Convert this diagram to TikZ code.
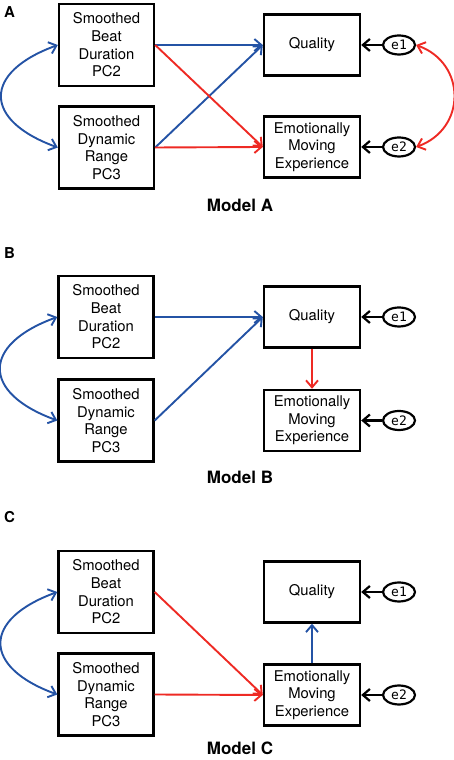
\documentclass[tikz,border=0pt]{standalone}
\usepackage{fontspec}
\setmainfont{TeX Gyre Heros}
\newfontfamily\errfont{DejaVu Sans Mono}
\usetikzlibrary{shapes,arrows.meta}
\definecolor{pathblue}{RGB}{36,83,165}
\definecolor{pathred}{RGB}{238,42,36}

\begin{document}
\begin{tikzpicture}[x=1pt, y=1pt,
    >={Straight Barb[length=7pt,width=12pt]},
    pred/.style={draw, line width=2.4pt, minimum width=95pt, minimum height=82pt,
        align=center, font=\fontsize{14.8}{17.6}\selectfont},
    outc/.style={pred, minimum width=96pt, minimum height=61pt},
    err/.style={draw, ellipse, line width=2.2pt, minimum width=32pt,
        minimum height=19pt, inner sep=0pt, font=\errfont\fontsize{13}{13}\selectfont},
    panel/.style={font=\bfseries\fontsize{15}{15}\selectfont},
    modelname/.style={font=\bfseries\fontsize{17}{17}\selectfont},
    bpath/.style={->, pathblue, line width=1.9pt},
    rpath/.style={->, pathred, line width=1.9pt},
    epath/.style={->, line width=2.2pt}]
\useasboundingbox (0,0) rectangle (454,760);

% Model A
\node[panel] (labA) at (9.5,747.5) {A};
\node[pred] (bdA) at (106.5,715) {Smoothed\\Beat\\Duration\\PC2};
\node[pred] (drA) at (106.5,612.5) {Smoothed\\Dynamic\\Range\\PC3};
\node[outc] (qA) at (312,715) {Quality};
\node[outc] (emA) at (312,613) {Emotionally\\Moving\\Experience};
\node[err] (e1A) at (399,715) {e1};
\node[err] (e2A) at (399,613) {e2};
\node[modelname] (mA) at (240,555) {Model A};
% paths
\draw[bpath] (bdA.east) -- (qA.west);
\draw[bpath] (drA.east) -- (qA.west);
\draw[rpath] (bdA.east) -- (emA.west);
\draw[rpath] (drA.east) -- (emA.west);
\draw[epath] (e1A.west) -- (qA.east);
\draw[epath] (e2A.west) -- (emA.east);
% covariances
\draw[bpath, <->] (bdA.west) to[out=200, in=160, looseness=2] (drA.west);
\draw[rpath, <->] (e1A.east) to[out=-20, in=20, looseness=1.35] (e2A.east);

% Model B
\node[panel] (labB) at (9.5,507) {B};
\node[pred] (bdB) at (106,443) {Smoothed\\Beat\\Duration\\PC2};
\node[pred] (drB) at (106,339.5) {Smoothed\\Dynamic\\Range\\PC3};
\node[outc] (qB) at (312,443) {Quality};
\node[outc] (emB) at (312,339.5) {Emotionally\\Moving\\Experience};
\node[err] (e1B) at (399,443) {e1};
\node[err] (e2B) at (399,339.5) {e2};
\node[modelname] (mB) at (240,283) {Model B};
% paths
\draw[bpath] (bdB.east) -- (qB.west);
\draw[bpath] (drB.east) -- (qB.west);
\draw[rpath] (qB.south) -- (emB.north);
\draw[epath] (e1B.west) -- (qB.east);
\draw[epath] (e2B.west) -- (emB.east);
% covariance
\draw[bpath, <->] (bdB.west) to[out=200, in=160, looseness=2] (drB.west);

% Model C
\node[panel] (labC) at (9.5,243) {C};
\node[pred] (bdC) at (106,168) {Smoothed\\Beat\\Duration\\PC2};
\node[pred] (drC) at (106,65.5) {Smoothed\\Dynamic\\Range\\PC3};
\node[outc] (qC) at (312,168) {Quality};
\node[outc] (emC) at (312,65) {Emotionally\\Moving\\Experience};
\node[err] (e1C) at (399,168) {e1};
\node[err] (e2C) at (399,65) {e2};
\node[modelname] (mC) at (240,12) {Model C};
% paths
\draw[rpath] (bdC.east) -- (emC.west);
\draw[rpath] (drC.east) -- (emC.west);
\draw[bpath] (emC.north) -- (qC.south);
\draw[epath] (e1C.west) -- (qC.east);
\draw[epath] (e2C.west) -- (emC.east);
% covariance
\draw[bpath, <->] (bdC.west) to[out=200, in=160, looseness=2] (drC.west);
\end{tikzpicture}
\end{document}
